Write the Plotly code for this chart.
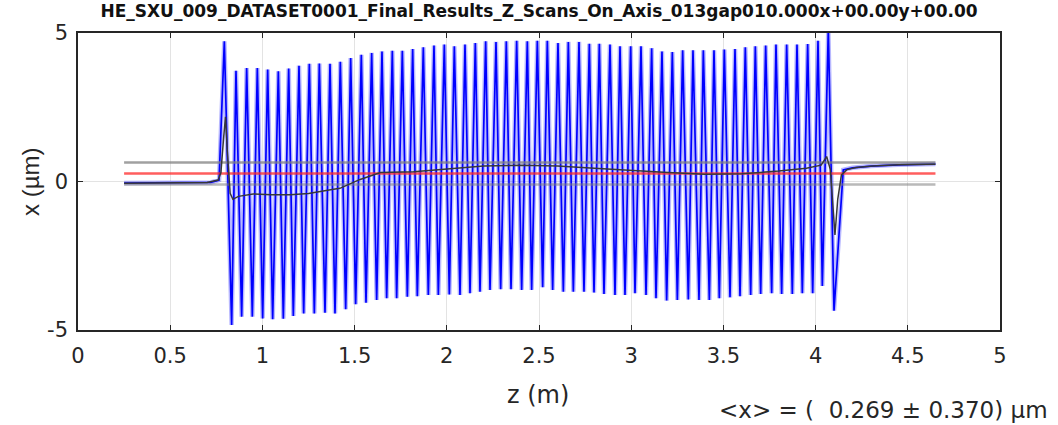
import plotly.graph_objects as go

# ---- data ----
title_text = "HE_SXU_009_DATASET0001_Final_Results_Z_Scans_On_Axis_013gap010.000x+00.00y+00.00"
x_ticks = [0, 0.5, 1, 1.5, 2, 2.5, 3, 3.5, 4, 4.5, 5]
x_tick_labels = ["0", "0.5", "1", "1.5", "2", "2.5", "3", "3.5", "4", "4.5", "5"]
y_ticks = [-5, 0, 5]
y_tick_labels = ["-5", "0", "5"]

peak_z = [0.7936, 0.8568, 0.9147, 0.9725, 1.0286, 1.0864, 1.1425, 1.1985, 1.2545, 1.3088,
          1.3666, 1.4226, 1.4787, 1.5365, 1.5926, 1.6486, 1.7046, 1.7589, 1.8149,
          1.8727, 1.9306, 1.9866, 2.0409, 2.0987, 2.1547, 2.2108, 2.2668, 2.3228, 2.3789,
          2.4367, 2.4910, 2.5452, 2.6030, 2.6591, 2.7169, 2.7730, 2.8272, 2.8850, 2.9393,
          2.9971, 3.0531, 3.1110, 3.1670, 3.2231, 3.2791, 3.3351, 3.3912, 3.4490, 3.5051,
          3.5629, 3.6189, 3.6732, 3.7292, 3.7852, 3.8431, 3.8991, 3.9570, 4.0130, 4.0690]
peak_x = [4.72, 3.73, 3.82, 3.82, 3.77, 3.71, 3.80, 3.90, 3.96, 3.97,
          3.96, 4.03, 4.16, 4.27, 4.33, 4.38, 4.40, 4.40, 4.46,
          4.52, 4.58, 4.61, 4.55, 4.61, 4.66, 4.72, 4.70, 4.72, 4.74,
          4.72, 4.74, 4.74, 4.66, 4.70, 4.70, 4.64, 4.64, 4.61, 4.55,
          4.55, 4.55, 4.49, 4.38, 4.36, 4.42, 4.42, 4.42, 4.42, 4.44,
          4.46, 4.52, 4.55, 4.58, 4.61, 4.61, 4.61, 4.63, 4.74, 5.15]
trough_z = [0.8333, 0.8876, 0.9454, 1.0014, 1.0557, 1.1135, 1.1677, 1.2238, 1.2816, 1.3395,
            1.3937, 1.4516, 1.5058, 1.5618, 1.6197, 1.6739, 1.7281, 1.7860, 1.8402,
            1.8998, 1.9541, 2.0137, 2.0716, 2.1258, 2.1800, 2.2343, 2.2921, 2.3482, 2.4060,
            2.4602, 2.5199, 2.5741, 2.6320, 2.6862, 2.7440, 2.7983, 2.8525, 2.9121, 2.9664,
            3.0206, 3.0803, 3.1345, 3.1923, 3.2502, 3.3098, 3.3677, 3.4237, 3.4779, 3.5358,
            3.5900, 3.6479, 3.7021, 3.7618, 3.8160, 3.8738, 3.9281, 3.9841, 4.0365, 4.0998]
trough_x = [-4.83, -4.55, -4.55, -4.61, -4.64, -4.62, -4.53, -4.44, -4.44, -4.42,
            -4.44, -4.30, -4.13, -4.08, -3.99, -3.93, -3.93, -3.88, -3.86,
            -3.82, -3.82, -3.80, -3.82, -3.76, -3.71, -3.65, -3.63, -3.63, -3.65,
            -3.65, -3.56, -3.65, -3.71, -3.71, -3.71, -3.74, -3.79, -3.82, -3.82,
            -3.76, -3.82, -3.93, -4.01, -3.99, -3.97, -3.99, -3.99, -3.93, -3.90,
            -3.86, -3.82, -3.79, -3.76, -3.79, -3.79, -3.76, -3.76, -3.52, -4.35]
lead_z = [0.25, 0.72, 0.765]
lead_x = [-0.05, -0.03, 0.05]
tail_z = [4.15, 4.20, 4.30, 4.45, 4.65]
tail_x = [0.39, 0.46, 0.52, 0.56, 0.59]

avg_z = [0.25, 0.50, 0.70, 0.76, 0.775, 0.79, 0.80, 0.81, 0.825, 0.84, 0.87, 0.95, 1.05,
         1.15, 1.25, 1.37, 1.42, 1.53, 1.64, 1.82, 2.00, 2.20, 2.40, 2.60, 2.80, 3.00,
         3.20, 3.40, 3.60, 3.80, 3.95, 4.03, 4.06, 4.08, 4.095, 4.105, 4.12, 4.14, 4.17,
         4.22, 4.31, 4.45, 4.65]
avg_x = [-0.06, -0.05, -0.03, 0.05, 0.30, 1.50, 2.18, 1.00, -0.40, -0.60, -0.50, -0.42, -0.45,
         -0.45, -0.40, -0.28, -0.23, 0.07, 0.30, 0.33, 0.41, 0.52, 0.55, 0.52, 0.45, 0.37,
         0.30, 0.24, 0.26, 0.35, 0.45, 0.55, 0.84, 0.40, -1.00, -1.80, -0.60, 0.22, 0.40,
         0.47, 0.52, 0.56, 0.58]

x_mean = 0.269
x_std = 0.370
z_start = 0.25
z_end = 4.65

# ---- build zig-zag trajectory from peaks & troughs ----
traj_z = list(lead_z)
traj_x = list(lead_x)
for pz, px, tz, tx in zip(peak_z, peak_x, trough_z, trough_x):
    traj_z += [pz, tz]
    traj_x += [px, tx]
traj_z += tail_z
traj_x += tail_x

fig = go.Figure()
fig.add_trace(go.Scatter(x=traj_z, y=traj_x, mode="lines",
                         line=dict(color="rgba(0,0,255,0.28)", width=4.5), hoverinfo="skip"))
fig.add_trace(go.Scatter(x=traj_z, y=traj_x, mode="lines",
                         line=dict(color="#0000ff", width=1.7)))
for val, col, w in [(x_mean + x_std, "rgba(128,128,128,0.75)", 2.5),
                    (x_mean - x_std, "rgba(128,128,128,0.55)", 2.5),
                    (x_mean, "rgba(255,40,40,0.75)", 2.5)]:
    fig.add_trace(go.Scatter(x=[z_start, z_end], y=[val, val], mode="lines",
                             line=dict(color=col, width=w)))
fig.add_trace(go.Scatter(x=avg_z, y=avg_x, mode="lines",
                         line=dict(color="#383838", width=1.5)))

tick_font = dict(family="DejaVu Sans", size=21, color="#262626")
axis_common = dict(showline=True, linecolor="#262626", linewidth=1.5, mirror="ticks",
                   ticks="inside", ticklen=5, tickcolor="#262626", tickwidth=1.2,
                   showgrid=True, gridcolor="#e3e3e3", gridwidth=1, zeroline=False,
                   tickfont=tick_font)

PW, PH = 922, 297  # plot-area size in px

fig.update_layout(
    width=1058, height=425,
    margin=dict(l=78, r=58, t=33, b=95),
    paper_bgcolor="white", plot_bgcolor="white",
    showlegend=False,
    title=dict(text="<b>" + title_text + "</b>", x=0.5, xref="paper", y=1 - 11.5 / 425,
               yref="container", xanchor="center", yanchor="middle",
               font=dict(family="DejaVu Sans", size=17, color="#111111")),
    xaxis=dict(range=[0, 5], tickvals=x_ticks, ticktext=x_tick_labels,
               ticklabelstandoff=6, **axis_common),
    yaxis=dict(range=[-5, 5], tickvals=y_ticks, ticktext=y_tick_labels,
               ticklabelstandoff=4, **axis_common),
    annotations=[
        dict(text="z (m)", xref="paper", yref="paper", x=(538 - 78) / PW, y=-65 / PH,
             xanchor="center", yanchor="middle", showarrow=False,
             font=dict(family="DejaVu Sans", size=24, color="#262626")),
        dict(text="x (µm)", xref="paper", yref="paper", x=-48 / PW, y=(330 - 182) / PH,
             xanchor="center", yanchor="middle", textangle=-90, showarrow=False,
             font=dict(family="Liberation Sans, Arial", size=24, color="#262626")),
        dict(text="<x> = (\u00a0\u00a0%.3f ± %.3f) µm" % (x_mean, x_std), xref="paper", yref="paper",
             x=(1050 - 78) / PW, y=-(410 - 330) / PH, xanchor="right", yanchor="middle",
             showarrow=False,
             font=dict(family="DejaVu Sans", size=23, color="#262626")),
    ],
)

fig.write_html("out.html", config={"displayModeBar": False},
               post_script="document.body.style.margin='0';")
